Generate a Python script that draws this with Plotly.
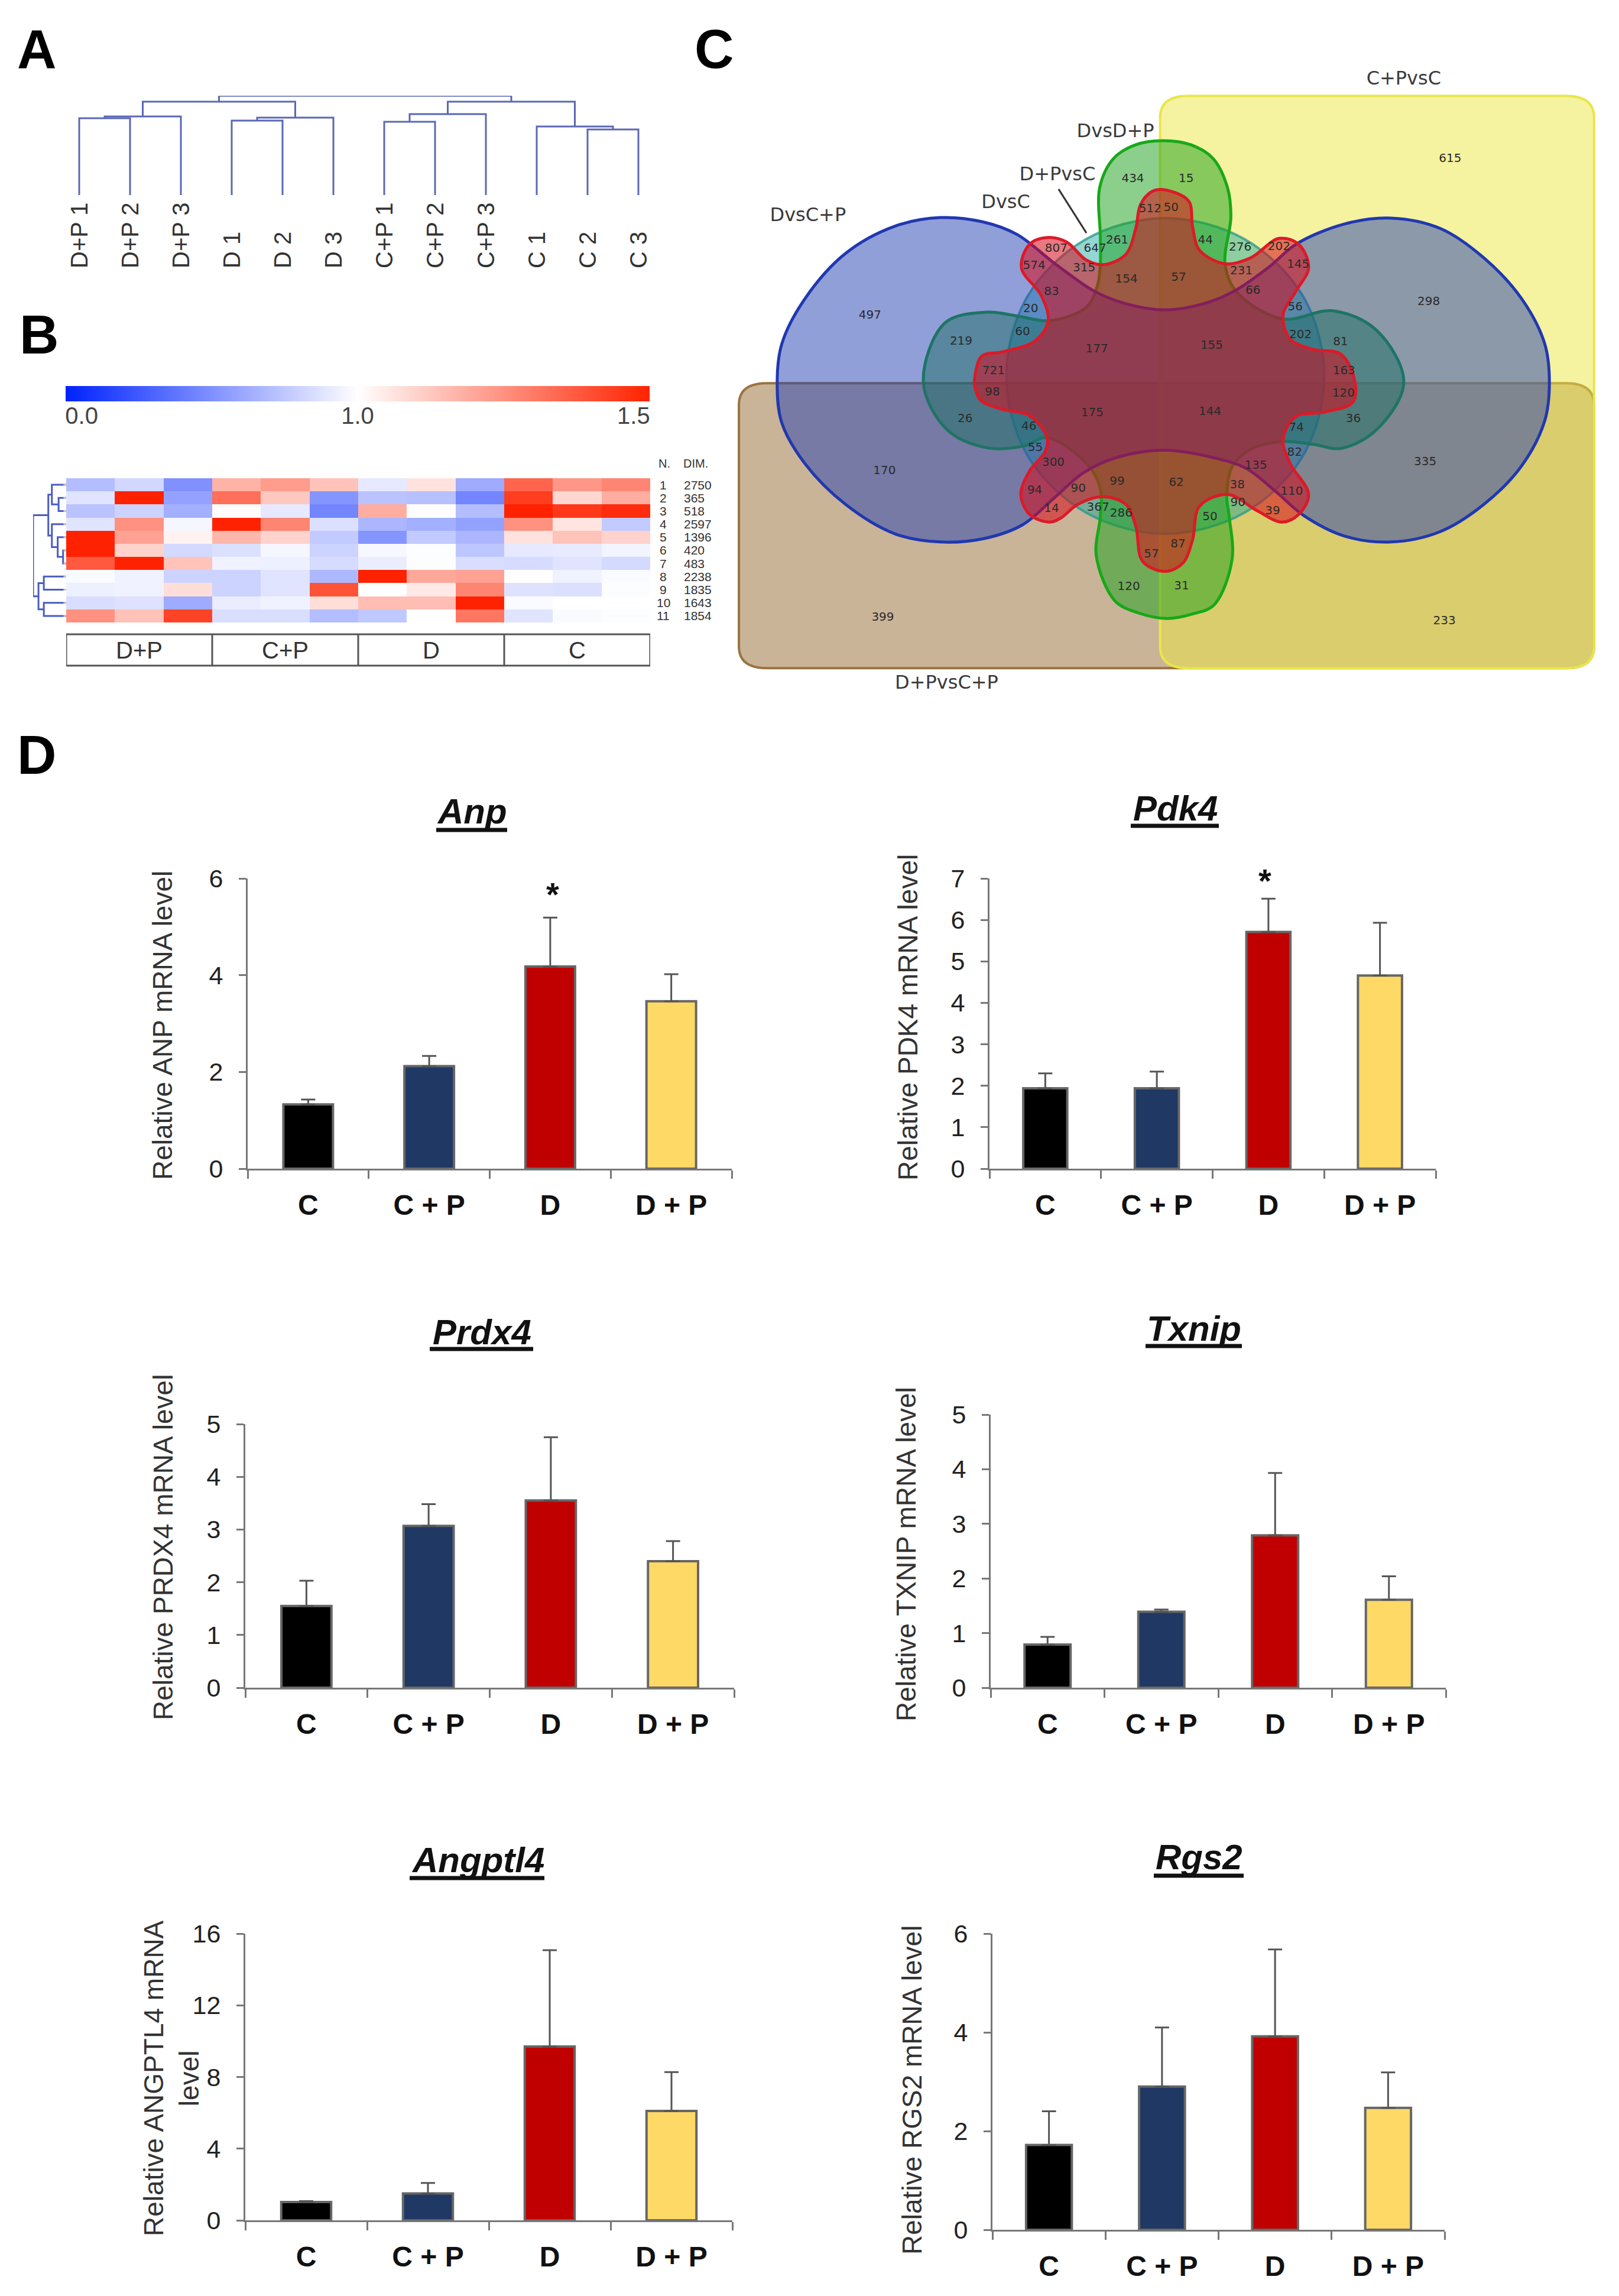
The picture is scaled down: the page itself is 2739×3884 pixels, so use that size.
import plotly.graph_objects as go

W, H = 2739, 3884
SANS = "Liberation Sans"
VENN = "DejaVu Sans"

SAMPLES = ["D+P 1", "D+P 2", "D+P 3", "D 1", "D 2", "D 3", "C+P 1", "C+P 2", "C+P 3", "C 1", "C 2", "C 3"]
SAMPLE_LINKS = [(0, 1, 130), ("n0", 2, 133), (3, 4, 126), ("n2", 5, 131), ("n1", "n3", 158),
                (6, 7, 124), ("n5", 8, 137), (10, 11, 111), (9, "n7", 116), ("n6", "n8", 158), ("n4", "n9", 168)]
HEAT = [
    [-.30, -.18, -.50, .35, .45, .27, -.10, .13, -.38, .70, .47, .55],
    [-.12, 1.0, -.42, .65, .25, -.48, -.27, -.28, -.55, .88, .18, .37],
    [-.27, -.20, -.36, .01, -.10, -.55, .37, .01, -.30, 1.0, .90, .95],
    [-.12, .50, -.04, 1.0, .55, -.14, -.33, -.36, -.42, .50, .12, -.24],
    [1.0, .42, .06, .33, .20, -.24, -.48, -.24, -.33, .13, .27, .20],
    [1.0, .20, -.17, -.14, -.04, -.20, -.03, -.01, -.26, -.10, -.09, -.05],
    [.75, 1.0, .27, -.06, -.07, -.16, -.08, -.01, -.15, -.16, -.12, -.17],
    [-.02, -.06, -.20, -.20, -.12, -.32, 1.0, .40, .42, 0, -.06, -.02],
    [-.07, -.06, .15, -.20, -.12, .78, 0, .10, .55, -.13, -.14, -.01],
    [-.15, -.13, -.38, -.08, -.06, .15, .30, .30, 1.0, -.02, 0, 0],
    [.50, .28, .85, -.15, -.15, -.30, -.25, 0, .62, -.12, -.02, -.01],
]
ROW_N = ["1", "2", "3", "4", "5", "6", "7", "8", "9", "10", "11"]
ROW_DIM = ["2750", "365", "518", "2597", "1396", "420", "483", "2238", "1835", "1643", "1854"]
GROUPS = ["D+P", "C+P", "D", "C"]
GROUP_CENTERS = [1, 4, 7, 10]
SCALE_STOPS = [-1, 0, 1]
SCALE_TICKS = ["0.0", "1.0", "1.5"]
ROW_LINKS = [(1, 2, 17), (0, "n0", 32), (5, 6, 7), (4, "n2", 19), (3, "n3", 32), ("n1", "n4", 40),
             (7, 8, 50), (9, 10, 50), ("n6", "n7", 62), ("n5", "n8", 74)]
CIRCLE_X = [786, 923, 1024, 1060, 1024, 923, 786, 649, 548, 512, 548, 649]
CIRCLE_Y = [482, 529, 656, 831, 1006, 1133, 1180, 1133, 1006, 831, 656, 529]
GREEN_X = [781, 830, 868, 893, 899, 889, 908, 987, 1075, 1150, 1197, 1150, 1089, 1040, 987, 933, 901, 892, 896, 901, 870, 830, 789,
           740, 699, 667, 674, 674, 650, 582, 545, 480, 410, 369, 406, 479, 533, 586, 650, 669, 674, 674, 673, 697, 735]
GREEN_Y = [311, 320, 350, 414, 479, 583, 644, 705, 687, 730, 845, 950, 991, 982, 976, 993, 1032, 1098, 1141, 1237, 1337, 1358, 1367,
           1355, 1328, 1228, 1141, 1080, 1024, 967, 985, 990, 950, 845, 714, 690, 699, 709, 679, 631, 583, 522, 414, 350, 320]
BLUE_X = [398, 470, 530, 596, 664, 720, 785, 850, 904, 965, 1011, 1095, 1175, 1260, 1335, 1400, 1440, 1448, 1440, 1400,
          1335, 1260, 1175, 1095, 1025, 975, 925, 870, 785, 700, 645, 595, 540, 475, 398, 320, 235, 165, 125, 117, 125, 165, 235, 320]
BLUE_Y = [481, 490, 518, 583, 644, 672, 685, 672, 644, 590, 540, 495, 482, 505, 570, 660, 760, 845, 930, 1030,
          1115, 1175, 1198, 1185, 1140, 1085, 1035, 1012, 995, 1012, 1045, 1100, 1160, 1190, 1198, 1180, 1115, 1025, 935, 845, 760, 660, 560, 500]
RED_X = [782, 826, 833, 845, 889, 933, 982, 1016, 1033, 1011, 989, 1001, 1040, 1089, 1113, 1109, 1060, 1011, 989, 1001, 1033,
         1016, 987, 943, 894, 845, 833, 816, 786, 747, 735, 718, 679, 635, 606, 586, 552, 537, 552, 579, 582, 552, 503, 467,
         457, 457, 469, 508, 562, 584, 572, 538, 552, 584, 616, 650, 679, 718, 735, 743, 762]
RED_Y = [419, 444, 501, 553, 583, 570, 527, 540, 592, 644, 696, 749, 772, 783, 845, 889, 911, 921, 971, 1024, 1093,
         1137, 1154, 1128, 1093, 1119, 1193, 1245, 1263, 1241, 1163, 1115, 1098, 1115, 1145, 1154, 1137, 1093, 1041, 998, 967, 919, 904, 884,
         850, 840, 788, 777, 753, 709, 653, 592, 540, 525, 535, 575, 585, 562, 505, 453, 424]
VENN_LABELS = ["C+PvsC", "DvsD+P", "D+PvsC", "DvsC", "DvsC+P", "D+PvsC+P"]
VENN_LABEL_X = [1197, 700, 600, 511, 170, 409]
VENN_LABEL_Y = [177, 293, 388, 450, 478, 1512]
LEADER_X = [602, 650]
LEADER_Y = [418, 515]
COUNTS = ["615", "434", "15", "512", "50", "261", "44", "647", "276", "807", "202", "574", "315", "231", "145", "154", "57",
          "83", "66", "20", "56", "497", "298", "60", "202", "219", "81", "177", "155", "721", "163", "98", "120", "175",
          "144", "26", "36", "46", "74", "55", "82", "170", "300", "135", "335", "94", "90", "99", "62", "38", "110", "90",
          "39", "14", "367", "286", "50", "87", "57", "120", "31", "399", "233"]
COUNT_X = [1277, 730, 822, 760, 796, 703, 855, 665, 915, 598, 982, 560, 646, 917, 1015, 719, 809,
           590, 937, 554, 1010, 277, 1240, 540, 1019, 434, 1088, 668, 866, 490, 1094, 488, 1093, 660,
           863, 441, 1110, 551, 1012, 562, 1009, 302, 593, 942, 1234, 561, 636, 703, 805, 910, 1004, 911,
           971, 590, 670, 710, 863, 808, 762, 723, 814, 299, 1267]
COUNT_Y = [351, 396, 396, 462, 460, 532, 532, 550, 548, 550, 546, 588, 593, 600, 586, 618, 614,
           645, 643, 683, 680, 698, 668, 734, 741, 755, 757, 772, 764, 820, 820, 867, 870, 914,
           911, 927, 926, 943, 946, 990, 1001, 1042, 1023, 1030, 1022, 1085, 1081, 1065, 1067, 1073, 1087, 1112,
           1130, 1125, 1123, 1136, 1143, 1204, 1225, 1298, 1296, 1366, 1373]
CATEGORIES = ["C", "C + P", "D", "D + P"]
BAR_COLORS = ["#000000", "#1F3864", "#C00000", "#FFD966"]
ANP_MEAN = [1.33, 2.12, 4.18, 3.46]
ANP_TOP = [1.43, 2.33, 5.19, 4.02]
PDK4_MEAN = [1.94, 1.94, 5.71, 4.66]
PDK4_TOP = [2.30, 2.34, 6.51, 5.93]
PRDX4_MEAN = [1.55, 3.07, 3.55, 2.40]
PRDX4_TOP = [2.03, 3.48, 4.75, 2.78]
TXNIP_MEAN = [0.79, 1.39, 2.79, 1.61]
TXNIP_TOP = [0.93, 1.43, 3.93, 2.04]
ANGPTL4_MEAN = [1.02, 1.50, 9.70, 6.10]
ANGPTL4_TOP = [1.07, 2.09, 15.08, 8.27]
RGS2_MEAN = [1.72, 2.90, 3.92, 2.47]
RGS2_TOP = [2.40, 4.10, 5.68, 3.19]

fig = go.Figure()
annotations, shapes = [], []
axis_count = [0]


def px(x):
    return x / W


def py(y):
    return 1 - y / H


def new_axes(x0, x1, ytop, ybot, xkw=None, ykw=None):
    axis_count[0] += 1
    n = axis_count[0]
    sfx = "" if n == 1 else str(n)
    base = dict(showgrid=False, zeroline=False, showticklabels=False, ticks="", showline=False, fixedrange=True,
                automargin=False)
    xa = dict(base, domain=[px(x0), px(x1)], anchor="y" + sfx)
    ya = dict(base, domain=[py(ybot), py(ytop)], anchor="x" + sfx)
    xa.update(xkw or {})
    ya.update(ykw or {})
    fig.layout["xaxis" + sfx] = xa
    fig.layout["yaxis" + sfx] = ya
    return "x" + sfx, "y" + sfx


def text_at(x, y, text, size, color="#222222", family=SANS, angle=0, xanchor="center", yanchor="middle"):
    annotations.append(dict(x=px(x), y=py(y), xref="paper", yref="paper", text=text, showarrow=False,
                            font=dict(size=size, color=color, family=family), textangle=angle,
                            xanchor=xanchor, yanchor=yanchor))


def dendro(links, sep):
    nodes = []
    seg_p, seg_h, leaf_p, leaf_h = [], [], [], []

    def locate(c):
        if isinstance(c, str):
            return nodes[int(c[1:])]
        return (float(c), 0.0)

    for a, b, h in links:
        pa, ha = locate(a)
        pb, hb = locate(b)
        seg_p += [pa, pa, pb, pb, None]
        seg_h += [ha, h, h, hb, None]
        for c, p, hh in ((a, pa, h), (b, pb, h)):
            if not isinstance(c, str):
                leaf_p += [p, p, None]
                leaf_h += [0, min(sep, hh), None]
        nodes.append(((pa + pb) / 2, h))
    return seg_p, seg_h, leaf_p, leaf_h


for ch, x, y in (("A", 62, 83), ("B", 66, 566), ("C", 1208, 83), ("D", 62, 1277)):
    text_at(x, y, "<b>%s</b>" % ch, 92, "#000000")

xa, ya = new_axes(91, 1123, 162, 330, dict(range=[-.5, 11.5]), dict(range=[0, 168]))
sp, sh, _, _ = dendro(SAMPLE_LINKS, 0)
fig.add_trace(go.Scatter(x=sp, y=sh, xaxis=xa, yaxis=ya, mode="lines", cliponaxis=False,
                         line=dict(color="#5A68B4", width=3)))
for i, lab in enumerate(SAMPLES):
    annotations.append(dict(x=i, y=py(456), xref=xa, yref="paper", text=lab, showarrow=False, textangle=-90,
                            font=dict(size=40, color="#333333", family=SANS), xanchor="center", yanchor="bottom"))

SCALE = [[0, "#0022FF"], [.5, "#FFFFFF"], [1, "#FF2200"]]
xa, ya = new_axes(111, 1099, 653, 679,
                  dict(range=[-1, 1], showticklabels=True, tickmode="array", tickvals=[-.945, 0, .945], ticktext=SCALE_TICKS,
                       tickfont=dict(size=40, color="#444444", family=SANS), ticklabelstandoff=-3),
                  dict(range=[-.5, .5]))
fig.add_trace(go.Heatmap(z=[SCALE_STOPS], x=SCALE_STOPS, xaxis=xa, yaxis=ya, zmin=-1, zmax=1, zsmooth="best",
                         colorscale=SCALE, showscale=False))

xa, ya = new_axes(112, 1100, 809, 1053, dict(range=[-.5, 11.5]), dict(range=[10.5, -.5]))
fig.add_trace(go.Heatmap(z=HEAT, xaxis=xa, yaxis=ya, zmin=-1, zmax=1, colorscale=SCALE, showscale=False))
HEAT_X = xa
for i, (n, d) in enumerate(zip(ROW_N, ROW_DIM)):
    annotations.append(dict(x=px(1122), y=i, xref="paper", yref=ya, text=n, showarrow=False, xanchor="center", yanchor="middle",
                            font=dict(size=21, color="#333333", family=SANS)))
    annotations.append(dict(x=px(1155), y=i, xref="paper", yref=ya, text=d, showarrow=False, xanchor="left", yanchor="middle",
                            font=dict(size=21, color="#333333", family=SANS)))
text_at(1124, 784, "N.", 20, "#333333")
text_at(1154, 784, "DIM.", 20, "#333333", xanchor="left")

shapes.append(dict(type="rect", xref=HEAT_X, x0=-.5, x1=11.5, yref="paper", y0=py(1126), y1=py(1073),
                   line=dict(color="#555555", width=3)))
for b in (2.5, 5.5, 8.5):
    shapes.append(dict(type="line", xref=HEAT_X, x0=b, x1=b, yref="paper", y0=py(1126), y1=py(1073),
                       line=dict(color="#555555", width=3)))
for g, c in zip(GROUPS, GROUP_CENTERS):
    annotations.append(dict(x=c, y=py(1100), xref=HEAT_X, yref="paper", text=g, showarrow=False,
                            xanchor="center", yanchor="middle",
                            font=dict(size=40, color="#333333", family=SANS)))

xa, ya = new_axes(56, 112, 809, 1053, dict(range=[74, 0]), dict(range=[10.5, -.5]))
rp, rh, lp, lh = dendro(ROW_LINKS, 6)
fig.add_trace(go.Scatter(x=rh, y=rp, xaxis=xa, yaxis=ya, mode="lines", cliponaxis=False,
                         line=dict(color="#4A5CC0", width=3)))
fig.add_trace(go.Scatter(x=lh, y=lp, xaxis=xa, yaxis=ya, mode="lines", cliponaxis=False,
                         line=dict(color="#C4C4C4", width=3)))

xa, ya = new_axes(1200, 2739, 0, 1200, dict(range=[0, 1568]), dict(range=[1568, 0]))


def rounded(x0, y0, x1, y1, r, fill, line):
    path = (f"M {x0 + r} {y0} L {x1 - r} {y0} Q {x1} {y0} {x1} {y0 + r} L {x1} {y1 - r} Q {x1} {y1} {x1 - r} {y1} "
            f"L {x0 + r} {y1} Q {x0} {y1} {x0} {y1 - r} L {x0} {y0 + r} Q {x0} {y0} {x0 + r} {y0} Z")
    shapes.append(dict(type="path", path=path, xref=xa, yref=ya, layer="below", fillcolor=fill,
                       line=dict(color=line, width=4)))


rounded(51, 847, 1525, 1477, 48, "#C9B498", "#9A7340")
rounded(777, 212, 1525, 1477, 48, "rgba(235,229,65,0.5)", "#E8E64A")


def blob(xs, ys, fill, line, width, smooth=1.0):
    fig.add_trace(go.Scatter(x=xs + xs[:1], y=ys + ys[:1], xaxis=xa, yaxis=ya, mode="lines", fill="toself",
                             fillcolor=fill, line=dict(color=line, width=width, shape="spline", smoothing=smooth)))


blob(CIRCLE_X, CIRCLE_Y, "rgba(15,165,155,0.45)", "rgba(40,150,140,0.75)", 4)
blob(GREEN_X, GREEN_Y, "rgba(25,160,25,0.5)", "#18A818", 5)
blob(BLUE_X, BLUE_Y, "rgba(35,63,177,0.5)", "#2038B0", 5)
blob(RED_X, RED_Y, "rgba(215,10,25,0.55)", "#DC1A28", 5)
fig.add_trace(go.Scatter(x=LEADER_X, y=LEADER_Y, xaxis=xa, yaxis=ya, mode="lines",
                         line=dict(color="#333333", width=3)))
fig.add_trace(go.Scatter(x=COUNT_X, y=COUNT_Y, xaxis=xa, yaxis=ya, mode="text", text=COUNTS,
                         textposition="middle center", textfont=dict(size=20, color="#2A2A2A", family=VENN)))
fig.add_trace(go.Scatter(x=VENN_LABEL_X, y=VENN_LABEL_Y, xaxis=xa, yaxis=ya, mode="text", text=VENN_LABELS,
                         textposition="middle center", textfont=dict(size=32, color="#3A3A3A", family=VENN)))

PANELS = [
    dict(title="Anp", mean=ANP_MEAN, top=ANP_TOP, ticks=[0, 2, 4, 6], ymax=6, x0=419, x1=1238, ytop=1486, ybot=1977,
         tx=798, ty=1372, ul=(738, 858, 1404), ylab="Relative ANP mRNA level", lx=275, ly=1735, star=(2.02, 5.68), width=.41),
    dict(title="Pdk4", mean=PDK4_MEAN, top=PDK4_TOP, ticks=list(range(8)), ymax=7, x0=1674, x1=2429, ytop=1486, ybot=1977,
         tx=1988, ty=1367, ul=(1913, 2062, 1397), ylab="Relative PDK4 mRNA level", lx=1536, ly=1721, star=(1.97, 6.95), width=.395),
    dict(title="Prdx4", mean=PRDX4_MEAN, top=PRDX4_TOP, ticks=list(range(6)), ymax=5, x0=415, x1=1242, ytop=2409, ybot=2855,
         tx=815, ty=2253, ul=(727, 902, 2282), ylab="Relative PRDX4 mRNA level", lx=276, ly=2618, star=None, width=.41),
    dict(title="Txnip", mean=TXNIP_MEAN, top=TXNIP_TOP, ticks=list(range(6)), ymax=5, x0=1676, x1=2446, ytop=2393, ybot=2855,
         tx=2020, ty=2247, ul=(1938, 2101, 2277), ylab="Relative TXNIP mRNA level", lx=1533, ly=2629, star=None, width=.405),
    dict(title="Angptl4", mean=ANGPTL4_MEAN, top=ANGPTL4_TOP, ticks=[0, 4, 8, 12, 16], ymax=16, x0=415, x1=1239, ytop=3271, ybot=3756,
         tx=808, ty=3146, ul=(693, 921, 3177), ylab="Relative ANGPTL4 mRNA<br>level", lx=290, ly=3516, star=None, width=.41),
    dict(title="Rgs2", mean=RGS2_MEAN, top=RGS2_TOP, ticks=[0, 2, 4, 6], ymax=6, x0=1679, x1=2444, ytop=3271, ybot=3772,
         tx=2029, ty=3141, ul=(1952, 2104, 3173), ylab="Relative RGS2 mRNA level", lx=1543, ly=3536, star=None, width=.405),
]
AX = "#777777"
for p in PANELS:
    xa, ya = new_axes(
        p["x0"], p["x1"], p["ytop"], p["ybot"],
        dict(range=[-.5, 3.5], showline=True, linecolor=AX, linewidth=3, tickmode="array", tickvals=[0, 1, 2, 3],
             ticktext=["<b>%s</b>" % c for c in CATEGORIES], showticklabels=True,
             tickfont=dict(size=48, color="#111111", family=SANS), ticks="", ticklabelstandoff=17,
             minor=dict(tickmode="array", tickvals=[-.5, .5, 1.5, 2.5, 3.5], ticks="outside", ticklen=14,
                        tickwidth=3, tickcolor=AX)),
        dict(range=[0, p["ymax"]], showline=True, linecolor=AX, linewidth=3, tickmode="array", tickvals=p["ticks"],
             ticktext=[str(t) for t in p["ticks"]], showticklabels=True, ticks="outside", ticklen=12, tickwidth=3, tickcolor=AX,
             tickfont=dict(size=43, color="#222222", family=SANS), ticklabelstandoff=18))
    errs = [round(t - m, 3) for t, m in zip(p["top"], p["mean"])]
    fig.add_trace(go.Bar(x=[0, 1, 2, 3], y=p["mean"], xaxis=xa, yaxis=ya, width=p["width"], cliponaxis=False,
                         marker=dict(color=BAR_COLORS, line=dict(color="#666666", width=4)),
                         error_y=dict(type="data", symmetric=False, array=errs, arrayminus=[0, 0, 0, 0],
                                      color="#555555", thickness=3, width=12)))
    text_at(p["tx"], p["ty"], "<b><i>%s</i></b>" % p["title"], 60, "#111111")
    u0, u1, uy = p["ul"]
    shapes.append(dict(type="line", xref="paper", yref="paper", x0=px(u0), x1=px(u1), y0=py(uy), y1=py(uy),
                       line=dict(color="#111111", width=7)))
    text_at(p["lx"], p["ly"], p["ylab"], 46, "#333333", angle=-90)
    if p["star"]:
        annotations.append(dict(x=p["star"][0], y=p["star"][1], xref=xa, yref=ya, text="<b>*</b>", showarrow=False,
                                xanchor="center", yanchor="middle",
                                font=dict(size=56, color="#111111", family=SANS)))

fig.update_layout(width=W, height=H, autosize=False, margin=dict(l=0, r=0, t=0, b=0, pad=0), paper_bgcolor="white",
                  plot_bgcolor="rgba(0,0,0,0)", showlegend=False, annotations=annotations, shapes=shapes,
                  hovermode=False, font=dict(family=SANS), template="none")
fig.write_html("out.html", config=dict(displayModeBar=False, responsive=False),
               post_script="document.body.style.margin='0';")
